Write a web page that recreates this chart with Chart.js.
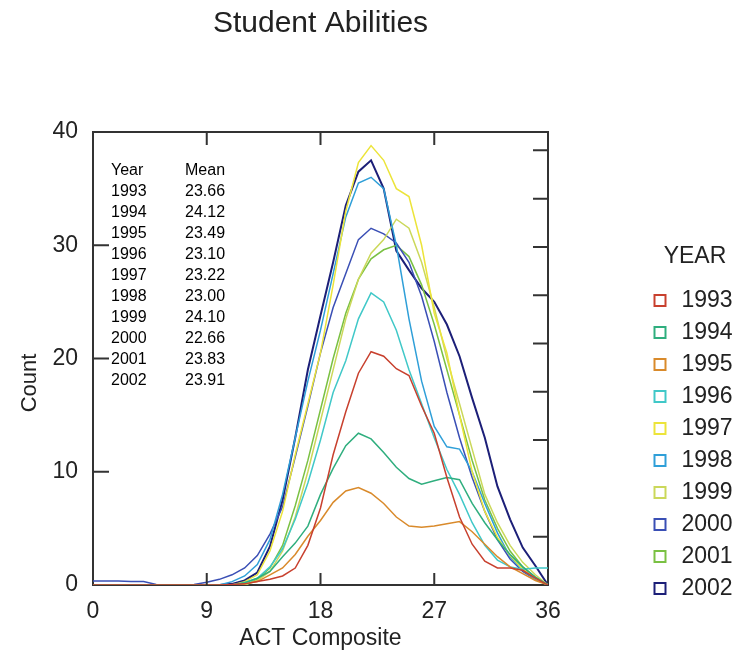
<!DOCTYPE html>
<html>
<head>
<meta charset="utf-8">
<script src="https://cdn.jsdelivr.net/npm/chart.js@4.4.1/dist/chart.umd.min.js"></script>
<style>
  html, body { margin: 0; padding: 0; background: #fff; }
  #wrap { position: relative; width: 739px; height: 660px; }
  #tabla { position: absolute; left: 111px; top: 159px; border-spacing: 0;
           font: 16px "Liberation Sans", Arial, sans-serif; color: #000; line-height: 21px; }
  #tabla td { padding: 0; }
  #tabla td:first-child { width: 74px; }
</style>
</head>
<body>
<div id="wrap">
  <canvas id="grafico" width="739" height="660"></canvas>
  <table id="tabla"></table>
</div>
<script>
// puntaje ACT 0..36
const acts = [0,1,2,3,4,5,6,7,8,9,10,11,12,13,14,15,16,17,18,19,20,21,22,23,24,25,26,27,28,29,30,31,32,33,34,35,36];
const xTicks = [0, 9, 18, 27, 36];

const years = ["1993","1994","1995","1996","1997","1998","1999","2000","2001","2002"];
const means = ["23.66","24.12","23.49","23.10","23.22","23.00","24.10","22.66","23.83","23.91"];

// conteos, un valor por puntaje
const c1993 = [0,0,0,0,0,0,0,0,0,0,0,0.05,0.1,0.3,0.5,0.8,1.5,3.5,6.8,11.5,15.3,18.7,20.6,20.2,19.1,18.5,15.8,13.4,9.5,6,3.6,2.1,1.5,1.5,1.3,0.6,0];
const c1994 = [0,0,0,0,0,0,0,0,0,0,0,0,0.2,0.6,1.2,2.5,3.7,5.2,8,10.3,12.3,13.4,12.9,11.7,10.4,9.4,8.9,9.2,9.5,9.3,7.2,5.5,4,2.7,1.6,0.7,0];
const c1995 = [0,0,0,0,0,0,0,0,0,0,0,0,0.1,0.3,0.9,1.5,2.7,4.3,5.7,7.3,8.3,8.6,8.1,7.2,6,5.2,5.1,5.2,5.4,5.6,4.7,3.6,2.5,1.6,1,0.4,0];
const c1996 = [0,0,0,0,0,0,0,0,0,0,0,0,0.2,0.6,1.6,3.2,5.8,9,12.8,17,19.8,23.5,25.8,25,22.5,19,16,13,10.2,8,5.5,3.5,2.2,1.6,1.4,1.5,1.5];
const c1997 = [0,0,0,0,0,0,0,0,0,0,0,0,0.3,0.9,3,6.5,11.5,16,20.5,26.5,33,37.3,38.8,37.5,35,34.3,30,24,20.5,15,10,6.5,4.2,2.6,1.4,0.6,0];
const c1998 = [0,0,0,0,0,0,0,0,0,0,0,0.3,0.8,1.8,4,8,13,18,22.5,27.5,32.5,35.5,36,35,30,23.5,18,14,12.2,12,10,7.2,4.6,2.5,1.3,0.5,0];
const c1999 = [0,0,0,0,0,0,0,0,0,0,0,0,0,0.4,1.2,3,6,10,14.5,19,23.5,27,29.3,30.5,32.3,31.5,28.5,24.5,20,16,12,8,5.5,3.5,2,0.9,0];
const c2000 = [0.35,0.35,0.35,0.3,0.3,0.05,0,0,0.05,0.25,0.5,0.9,1.5,2.6,4.5,6.9,11.3,15.8,20.5,24.5,27.5,30.5,31.5,31,30.2,28.5,25.5,21.5,17,13,9.5,6.5,4,2.3,1.2,0.5,0];
const c2001 = [0,0,0,0,0,0,0,0,0,0,0,0,0,0.5,1.5,3.5,7,11,15.5,20,24,27,28.8,29.6,30,29,26.5,23,19,15,11,7.5,5,3,1.6,0.7,0];
const c2002 = [0,0,0,0,0,0,0,0,0,0,0,0.1,0.4,1.1,3.4,7.5,13,19,23.8,28.5,33.5,36.5,37.5,35,29.5,27.8,26.2,25,23,20.2,16.5,13,8.7,5.8,3.3,1.7,0];

const series = [c1993, c1994, c1995, c1996, c1997, c1998, c1999, c2000, c2001, c2002];
const colores = ["#c8402e","#2fae7e","#d98a2b","#40c8c8","#ece43a","#2f9fd8","#cbd85a","#3a4fb5","#7ac143","#1c1f78"];

// tabla de medias
document.getElementById("tabla").innerHTML =
  "<tr><td>Year</td><td>Mean</td></tr>" +
  years.map((y, i) => `<tr><td>${y}</td><td>${means[i]}</td></tr>`).join("");

Chart.defaults.font.family = '"Liberation Sans", Arial, sans-serif';
Chart.defaults.color = "#222";

// marcas de escala hacia adentro
const marcasInternas = {
  id: "marcasInternas",
  afterDraw(chart) {
    const { ctx, chartArea: a, scales } = chart;
    ctx.save();
    ctx.strokeStyle = "#333";
    ctx.lineWidth = 2;
    ctx.beginPath();
    scales.x.ticks.forEach(t => {
      if (t.value <= scales.x.min || t.value >= scales.x.max) return;
      const px = scales.x.getPixelForValue(t.value);
      ctx.moveTo(px, a.bottom); ctx.lineTo(px, a.bottom - 12);
      ctx.moveTo(px, a.top); ctx.lineTo(px, a.top + 13);
    });
    scales.y.ticks.forEach(t => {
      if (t.value <= scales.y.min || t.value >= scales.y.max) return;
      const py = scales.y.getPixelForValue(t.value);
      ctx.moveTo(a.left, py); ctx.lineTo(a.left + 16, py);
    });
    scales.y2.ticks.forEach(t => {
      if (t.value <= scales.y2.min || t.value >= scales.y2.max) return;
      const py = scales.y2.getPixelForValue(t.value);
      ctx.moveTo(a.right, py); ctx.lineTo(a.right - 15, py);
    });
    ctx.stroke();
    ctx.restore();
  }
};

// mover la leyenda a la derecha
const posLeyenda = {
  id: "posLeyenda",
  afterLayout(chart) {
    const l = chart.legend;
    l.left = 641; l.width = 108; l.right = l.left + l.width;
    l.top = 245.5; l.height = 414; l.bottom = l.top + l.height;
  }
};

const borde = { display: true, color: "#333", width: 2 };

new Chart(document.getElementById("grafico").getContext("2d"), {
  type: "line",
  data: {
    datasets: years.map((y, i) => ({
      label: y,
      data: acts.map((x, j) => ({ x, y: series[i][j] })),
      borderColor: colores[i],
      backgroundColor: "rgba(0,0,0,0)",
      borderWidth: i === 9 ? 2 : 1.5,
      pointRadius: 0,
      tension: 0,
      fill: false
    }))
  },
  options: {
    responsive: false,
    animation: false,
    layout: { padding: { left: 0, right: 191, top: 0, bottom: 0 } },
    plugins: {
      title: {
        display: true,
        text: "Student Abilities",
        fullSize: false,
        font: { size: 30, weight: "normal" },
        color: "#222",
        padding: { top: 6, bottom: 90 }
      },
      legend: {
        position: "chartArea",
        align: "start",
        title: { display: true, text: "YEAR", font: { size: 23 }, color: "#222", padding: { top: 0, bottom: 7 } },
        labels: {
          usePointStyle: true,
          pointStyle: "rect",
          boxWidth: 20,
          boxHeight: 11,
          padding: 9,
          font: { size: 23 },
          color: "#222",
          generateLabels(chart) {
            const items = Chart.defaults.plugins.legend.labels.generateLabels(chart);
            items.forEach(it => { it.lineWidth = 2; it.fillStyle = "#fff"; });
            return items;
          }
        }
      },
      tooltip: { enabled: false }
    },
    scales: {
      x: {
        type: "linear", min: 0, max: 36,
        afterBuildTicks: s => { s.ticks = xTicks.map(v => ({ value: v })); },
        afterFit: s => { s.height = 75; },
        ticks: { font: { size: 23 }, padding: 5, color: "#222" },
        grid: { display: false },
        border: borde,
        title: { display: true, text: "ACT Composite", font: { size: 23 }, color: "#222", padding: { bottom: 8 } }
      },
      x2: {
        type: "linear", position: "top", min: 0, max: 36,
        afterFit: s => { s.height = 0; },
        ticks: { display: false },
        grid: { display: false },
        border: borde
      },
      y: {
        min: 0, max: 40,
        afterFit: s => { s.width = 93; },
        ticks: { stepSize: 10, font: { size: 23 }, padding: 7, color: "#222" },
        grid: { display: false },
        border: borde,
        title: { display: true, text: "Count        ", font: { size: 22 }, color: "#222", padding: { top: 17 } }
      },
      y2: {
        type: "linear", position: "right", min: 0, max: 9.38,
        afterFit: s => { s.width = 0; },
        ticks: { display: false, stepSize: 1 },
        grid: { display: false },
        border: borde
      }
    }
  },
  plugins: [marcasInternas, posLeyenda]
});
</script>
</body>
</html>
